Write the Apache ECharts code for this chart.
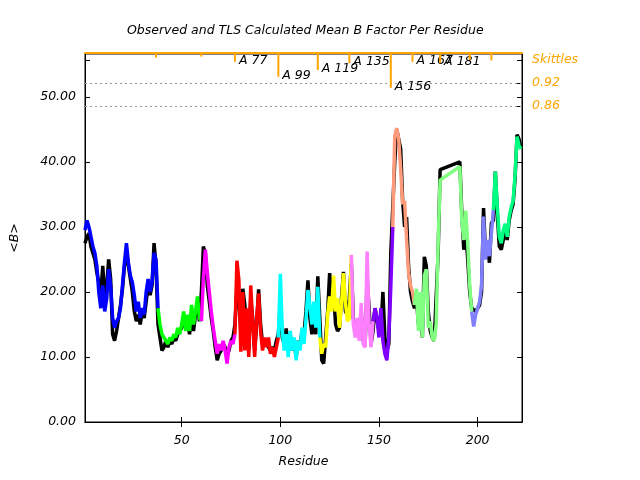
<!DOCTYPE html>
<html><head><meta charset="utf-8">
<script src="https://cdn.jsdelivr.net/npm/echarts@6/dist/echarts.min.js"></script>
<style>html,body{margin:0;padding:0;background:#fff}#c{width:640px;height:480px}</style>
</head><body><div id="c"></div>
<script>
// ---- data ----
const residueRanges = [[1,181],[191,222]];
const observed = [
27.5,28.5,29,27,26,25,23,21.5,19.5,24,
19,21,25,22,13.5,12.5,14,16,18,20.5,
24,26,24,22,20,17,15.5,16.5,15,17,
16,18.5,21,19.5,21,27.5,24,15,13,11,
11.5,12.5,11.5,12.5,12,13,12.5,13.5,14,14.5,
16,14.5,15.5,13.5,17,14,16.5,18,15.5,20,
27,26,21,18.5,16,14,11.5,9.5,10.5,11,
12,11.5,10.5,11,12.5,13,15,20.5,19,14,
20.5,18,14,11,19,16,11,15,20.4,15,
12,12.5,12,12,11,11.5,11,12.5,13.5,18,
13,12,14.4,11,13.5,11,12.5,10,12.5,11.5,
14,13.5,17,21.8,16,13.5,16,13.5,22.4,16,
9.5,9,13,17,22.9,18.5,20,15,14,14.5,
19,23.1,17,16.5,19,24.4,16,14,15.5,13.5,
17,12.5,12,22,17.5,12,14,17.5,17.5,14,
14.5,20,13,11,12,26,33,40,45,45,
42,34,30,31.5,24,20,18.5,17.5,19,15,
18,13,25.4,24,17,14,13,12.5,12.5,26,38.8,
40,32,26.5,29,25,20,17.5,17.7,17,17.5,
18,20,32.9,26,27,24.5,30.6,31,38.5,32,
27,26.5,28,29.5,28,31,32.5,33.5,37.5,44.2,43.5,42
];
const tlsCalc = [
29.5,31,30,28.5,27,26,24,20,17.5,21,
17,19,23.5,21,16,14.5,15.5,16,17.5,21,
24.5,27.5,24.5,22.5,21.5,19.5,17,18.5,16,17.5,
16.5,20,22,20,21.5,26,25,17.5,15,13.5,
13,12.5,12,13,12.5,13.5,13,14.5,13.5,15,
17,14,16.5,14,18,15,17,19.3,16,15.5,
22,26.5,23,20,17,14.5,12.5,10.5,12,11,
12.5,11,9,11.5,12.5,12,13.5,24.8,21.8,10.8,
20,11,17.5,10,21,15,10,16,19.8,14,
11,13,11.5,13,10.5,11.5,10,11.5,13,22.8,
14,11,13.5,10,14,11,13,9.5,12.5,11,
14.5,12,15.7,20.3,18,15,18.5,14.5,20.8,13,
10.5,12,11.5,16.5,19.3,17,22.5,17,19,14.5,
18,22.9,18.5,15.5,16,25.7,15,13,16,12.5,
18.3,12,11.5,26.2,15,11.5,15.5,17.5,16,13,
17.5,12.5,10.5,9.5,13,20.8,30,44,45.2,43.5,
39,33.5,34,28,23,21,20,18,20.5,14,
20,13,22.5,23.5,14.5,15.5,13,12.5,15,27.5,37.2,
39.3,31,28,32.5,27.5,21,17,14.7,16.5,17.5,
18.5,21,31.6,25,28,25.5,29,32.6,38.5,33,
28.5,27.5,29.5,30.5,28.5,31.5,33,34,38,43.9,42.5,42
];
const segmentStarts = [1,38,60,77,99,120,136,147,157,168,197,208];
const segmentColors = ['#0000ff','#00ff00','#ff00ff','#ff0000','#00ffff','#ffff00','#ff80ff','#8000ff','#ff9a7a','#80ff80','#8080ff','#00ff80'];
const skittleResidues = [37,60,77,99,119,135,156,167,181,196,207];
const skittleEnds = [56.05,56.2,55.4,53.1,54.15,55.2,51.4,55.4,55.2,55.7,55.6];
const skittleLabels = ['','','A 77','A 99','A 119','A 135','A 156','A 167','A 181','',''];
const thresholdValues = [52.15,48.6];
const thresholdLabels = ['0.92','0.86'];
const skittleRowValue = 55.7;
const xTickValues = [50,100,150,200];
const yTickValues = [0,10,20,30,40,50];

// ---- build ----
const Y_MAX = 56.6, X_MIN = 1, X_MAX = 222.5;
const FONT = 'DejaVu Sans';
const LW = 3.5;
const residues = [];
residueRanges.forEach(([a,b]) => { for (let r=a;r<=b;r++) residues.push(r); });
const obsData = residues.map((r,i)=>[r, observed[i]]);
const segSeries = segmentStarts.map((s,k)=>{
  const e = k+1 < segmentStarts.length ? segmentStarts[k+1] : Infinity;
  const d = [];
  residues.forEach((r,i)=>{ if (r>=s && r<=e) d.push([r, tlsCalc[i]]); });
  return {type:'line', data:d, showSymbol:false, symbol:'none', silent:true,
    lineStyle:{color:segmentColors[k], width:LW}, itemStyle:{color:segmentColors[k]}, z:3};
});
const rightLabelMap = {};
thresholdValues.forEach((v,i)=>rightLabelMap[v]=thresholdLabels[i]);
rightLabelMap[skittleRowValue] = 'Skittles';

const chart = echarts.init(document.getElementById('c'), null, {renderer:'canvas'});
chart.setOption({
  animation:false,
  backgroundColor:'#fff',
  title:{text:'Observed and TLS Calculated Mean B Factor Per Residue', left:122, top:19,
    textStyle:{fontFamily:FONT, fontStyle:'italic', fontWeight:'normal', fontSize:12.5, color:'#000'}},
  grid:{left:84, right:118, top:54, bottom:58, show:true, borderColor:'#000', borderWidth:1, containLabel:false},
  xAxis:[{
    type:'value', min:X_MIN, max:X_MAX, position:'bottom',
    name:'Residue', nameLocation:'middle', nameGap:33,
    nameTextStyle:{fontFamily:FONT, fontStyle:'italic', fontSize:12.5, color:'#000'},
    axisLine:{lineStyle:{color:'#000', width:1}},
    axisTick:{inside:true, length:5, customValues:xTickValues, lineStyle:{color:'#000'}},
    axisLabel:{customValues:xTickValues, margin:12, fontFamily:FONT, fontStyle:'italic', fontSize:12.5, color:'#000'},
    splitLine:{show:false}
  },{
    type:'value', min:X_MIN, max:X_MAX, position:'top',
    axisLine:{lineStyle:{color:'#000', width:1}},
    axisTick:{inside:true, length:5, customValues:xTickValues, lineStyle:{color:'#000'}},
    axisLabel:{show:false}, splitLine:{show:false}
  },{
    type:'value', min:X_MIN, max:X_MAX, position:'top', offset:1,
    axisLine:{lineStyle:{color:'#ffa500', width:2}},
    axisTick:{show:false}, axisLabel:{show:false}, splitLine:{show:false}
  }],
  yAxis:[{
    type:'value', min:0, max:Y_MAX, interval:10, position:'left',
    name:'<B>', nameLocation:'middle', nameGap:64, nameRotate:90,
    nameTextStyle:{fontFamily:FONT, fontStyle:'italic', fontSize:12.5, color:'#000'},
    axisLine:{show:true, lineStyle:{color:'#000'}},
    axisTick:{show:true, inside:true, length:5, customValues:yTickValues.concat([skittleRowValue]), lineStyle:{color:'#000'}},
    axisLabel:{customValues:yTickValues, margin:9, formatter:v=>v.toFixed(2), fontFamily:FONT, fontStyle:'italic', fontSize:12.5, color:'#000'},
    splitLine:{show:false}
  },{
    type:'value', min:0, max:Y_MAX, position:'right',
    axisLine:{show:true, lineStyle:{color:'#000'}},
    axisTick:{show:true, inside:true, length:5, customValues:yTickValues.slice(1).concat(thresholdValues,[skittleRowValue]), lineStyle:{color:'#000'}},
    axisLabel:{customValues:thresholdValues.concat([skittleRowValue]), margin:10,
      formatter:v=>{ let best=null,bd=1e9; for (const k in rightLabelMap){const d=Math.abs(+k-v); if(d<bd){bd=d;best=rightLabelMap[k];}} return best; },
      fontFamily:FONT, fontStyle:'italic', fontSize:12.5, color:'#ffa500'},
    splitLine:{show:false}
  }],
  series:[{
    type:'line', data:obsData, showSymbol:false, symbol:'none', silent:true,
    lineStyle:{color:'#000', width:LW}, itemStyle:{color:'#000'}, z:2,
    markLine:{symbol:'none', silent:true, label:{show:false},
      lineStyle:{type:[2,3], color:'#999', width:1},
      data:thresholdValues.map(v=>({yAxis:v}))}
  }].concat(segSeries).concat([{
    type:'custom', silent:true, z:5, clip:false,
    data:skittleResidues.map((r,i)=>[r, skittleEnds[i], i]),
    renderItem:(params, api)=>{
      const r = api.value(0), e = api.value(1), idx = api.value(2);
      const p0 = api.coord([r, Y_MAX]), p1 = api.coord([r, e]);
      const children = [{type:'line', shape:{x1:p0[0], y1:p0[1], x2:p1[0], y2:p1[1]},
        style:{stroke:'#ffa500', lineWidth:2}}];
      const t = skittleLabels[idx];
      if (t) children.push({type:'text', style:{text:t, x:p1[0]+4, y:p1[1]-1, align:'left', verticalAlign:'middle',
        font:'italic 12.5px "DejaVu Sans"', fill:'#000'}});
      return {type:'group', children};
    }
  }])
});
</script></body></html>
